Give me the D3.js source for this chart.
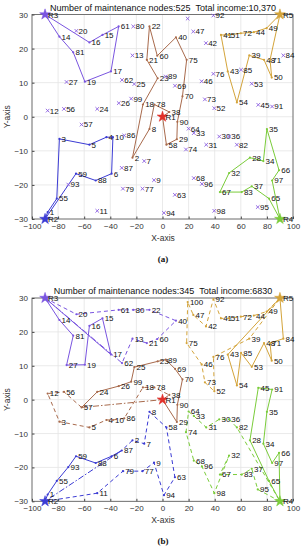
<!DOCTYPE html>
<html><head><meta charset="utf-8">
<script src="https://cdn.jsdelivr.net/npm/d3@7"></script>
<style>body{margin:0;background:#fff}svg{display:block;font-family:"Liberation Sans",Arial,sans-serif}text{white-space:pre}</style>
</head><body><svg id="c" width="303" height="550"></svg>
<script>
// ---------- data ----------
const nodeX = [-88,-23,-79,-43,-56,-39,-14,-10,-6.5,-38, -50,-88,-23,-79,-46,-56,-39.5,-15,-59.5,-66,
 -12,-10,-3.7,-50,-21.6,-33.5,-73.5,67,11,43.5, 33.5,51,24,77.3,80,51,68.4,5.2,66.5,10.3,
 44.8,33.3,50,70,73.4,30,23.6,77.8,79.8,83.7, 50.7,39.7,68.4,57,-81,-75.5,-62,3,-66.3,-4,
 -33.6,-31,9.5,20,81.6,89.3,44,24,9.6,15.3, 82.4,60,32.5,18,18.5,39,-15.3,-6.3,-30.3,-22.4,
 -68.4,57,60.7,92.6,60.2,-29.3,-31.2,-51.2,2.5,11.4, 84,39,-72.2,1.1,73,30.2,84,39.7,-24,19.3];
const nodeY = [-28,-12,-6.5,-6,-8.2,-16.7,-13,-3.6,-18.6,-6, -27.6,1.8,18,23.5,24,21.8,13.3,3.6,10.3,25.2,
 16.7,26.5,11.3,2.3,9.6,4,10.2,-12,-6.6,-5.8, -8.2,-16.5,-4.8,-13,-3.6,-5.8,-20.4,1.4,18,23.3,
 24,21.6,13.3,24.8,3.5,10.4,25,16.7,26,11.5, 24,2.5,9.7,4.2,-24,2.3,-2.3,-8.2,-16.7,17.9,
 26.5,10.8,-22.9,-3.5,-24,-15.7,-22.1,-18,9.1,6, 16.7,24.5,5.1,-9.6,16.7,12.6,-21.1,3.6,-21.1,26.5,
 18.9,-8.2,-22.1,18,13.8,-5.5,-15,-18.7,11.8,-1.5, 3,29.7,-19.9,-28.2,-26.5,-19.7,-18.7,-27.6,5.3,28.8];
const depotNames = ["R1","R2","R3","R4","R5"];
const depotX = [0,-90,-90,90,90];
const depotY = [0,-30,30,-30,30];

const xTicks = [-100,-80,-60,-40,-20,0,20,40,60,80,100];
const yTicks = [-30,-20,-10,0,10,20,30];

const titleA = "Number of maintenance nodes:525  Total income:10,370";
const titleB = "Number of maintenance nodes:345  Total income:6830";

// routes of plan (a)
const routesA = [
  ["R3",14,81,19,17,61,15,16,"R3"],
  ["R2",1,55,3,5,4,10,6,88,59,"R2"],
  ["R1",38,78,8,2,18,23,21,22,60,40,75,70,90,29,58,"R1"],
  ["R5",49,44,72,51,41,43,54,39,48,50,71,"R5"],
  ["R4",97,66,35,34,28,32,67,83,37,65,"R4"]
];
// routes of plan (b)
const routesB = [
  ["R3",14,81,27,19,16,15,17,"R3"],
  ["R3",20,61,80,22,40,60,21,13,62],
  [62,"R3"],
  ["R1",29,90,70,69,89,23,25,99,26,24,57],
  [57,56,12,3,5,4,10,86,18,78,38,"R1"],
  [57,"R1"],
  ["R2",1,55,93,59,88,6,87],
  ["R2",11,79,77,9,94,63,58,8,7,2,87],
  [87,"R2"],
  ["R5",84,71,50,48,53,85,54,43,"R5"],
  ["R5",49,44,72,51,41,92,42,47,100,75,46,73,52,76,39,"R5"],
  ["R4",66,97,34,35,91,45,28,65,"R4"],
  ["R4",95,37,83,67,32,98,96,68,74,64,33,31,30,36,82,"R4"]
];
// group (depot) of each route in (b), and line kind: 0 solid, 1 dashed, 2 dash-dot
const routesBDepot = ["R3","R3","R3","R1","R1","R1","R2","R2","R2","R5","R5","R4","R4"];
const routesBKind  = [0,1,2,0,1,2,0,1,2,0,1,0,1];

// ---------- styles ----------
const depotColor = {R1:"#a86a4c", R2:"#3b3bd4", R3:"#7a55e0", R4:"#7acc3a", R5:"#d4a43a"};
const depotStar = {R1:"#e0302a", R2:"#3b3bd4", R3:"#7a55e0", R4:"#7acc3a", R5:"#d4a43a"};
const dashes = [null,"4,3","6,2,1.5,2"];
const crossColor = "#8a5ee0";

const svg = d3.select("#c");
function pos(id){
  if (typeof id === "string"){ const i = depotNames.indexOf(id); return [depotX[i], depotY[i]]; }
  return [nodeX[id-1], nodeY[id-1]];
}

function panel(cfg){
  const g = svg.append("g");
  const x = d3.scaleLinear().domain([-100,100]).range([32,293]);
  const y = d3.scaleLinear().domain([-30,30]).range([cfg.bottom, cfg.top]);
  // grid
  g.append("g").selectAll("line").data(xTicks).join("line")
    .attr("x1",d=>x(d)).attr("x2",d=>x(d)).attr("y1",cfg.top).attr("y2",cfg.bottom)
    .attr("stroke","#e4e4e4").attr("stroke-width",0.8);
  g.append("g").selectAll("line").data(yTicks).join("line")
    .attr("y1",d=>y(d)).attr("y2",d=>y(d)).attr("x1",32).attr("x2",293)
    .attr("stroke","#e4e4e4").attr("stroke-width",0.8);
  // axes
  const ax = g.append("g").attr("transform",`translate(0,${cfg.bottom})`)
    .call(d3.axisBottom(x).tickValues(xTicks).tickSizeInner(-2.5).tickSizeOuter(0).tickPadding(4));
  const ay = g.append("g").attr("transform",`translate(32,0)`)
    .call(d3.axisLeft(y).tickValues(yTicks).tickSizeInner(-2.5).tickSizeOuter(0).tickPadding(4));
  [ax,ay].forEach(a=>{
    a.select(".domain").remove();
    a.selectAll("line").attr("stroke","#444");
    a.selectAll("text").attr("font-size",8).attr("fill","#333").attr("font-family","Liberation Sans, Arial, sans-serif");
  });
  g.append("rect").attr("x",32).attr("y",cfg.top).attr("width",261).attr("height",cfg.bottom-cfg.top)
    .attr("fill","none").attr("stroke","#555").attr("stroke-width",0.8);
  // routes
  const line = d3.line().x(d=>x(pos(d)[0])).y(d=>y(pos(d)[1]));
  const visitedColor = {};
  cfg.routes.forEach((r,i)=>{
    const dep = cfg.depots[i];
    g.append("path").attr("d",line(r)).attr("fill","none")
      .attr("stroke",depotColor[dep]).attr("stroke-width",1)
      .attr("stroke-dasharray",dashes[cfg.kinds[i]]);
    r.forEach(n=>{ if(typeof n==="number" && !visitedColor[n]) visitedColor[n]=depotColor[dep]; });
  });
  // nodes
  const ids = d3.range(1,101);
  ids.forEach(id=>{
    const px = x(nodeX[id-1]), py = y(nodeY[id-1]);
    if (visitedColor[id]){
      g.append("circle").attr("cx",px).attr("cy",py).attr("r",1.1).attr("fill",visitedColor[id]);
    } else {
      g.append("path").attr("d",`M${px-1.8},${py-1.8}L${px+1.8},${py+1.8}M${px-1.8},${py+1.8}L${px+1.8},${py-1.8}`)
        .attr("stroke",crossColor).attr("stroke-width",0.9);
    }
    if (!(cfg.hide||[]).includes(id)){
      g.append("text").attr("x",px+2.2).attr("y",py+2.9).attr("font-size",8).attr("fill","#111").text(id);
    }
  });
  // depots
  depotNames.forEach((d,i)=>{
    const px = x(depotX[i]), py = y(depotY[i]);
    g.append("path").attr("transform",`translate(${px},${py})`)
      .attr("d",d3.symbol(d3.symbolStar,36)()).attr("fill",depotStar[d]).attr("stroke",depotStar[d]).attr("stroke-width",0.5);
    g.append("text").attr("x",px+3).attr("y",py+3).attr("font-size",8).attr("fill","#111").text(d);
  });
  // titles
  g.append("text").attr("x",163).attr("y",cfg.top-4).attr("text-anchor","middle")
    .attr("font-size",9).attr("fill","#111").attr("xml:space","preserve").text(cfg.title);
  g.append("text").attr("x",163).attr("y",cfg.bottom+22).attr("text-anchor","middle")
    .attr("font-size",8.5).attr("fill","#333").text("X-axis");
  g.append("text").attr("transform",`translate(10,${(cfg.top+cfg.bottom)/2}) rotate(-90)`)
    .attr("text-anchor","middle").attr("font-size",8.5).attr("fill","#333").text("Y-axis");
  g.append("text").attr("x",163).attr("y",cfg.bottom+43).attr("text-anchor","middle")
    .attr("font-size",9).attr("font-weight","bold").attr("font-family","Liberation Serif, Times New Roman, serif")
    .attr("fill","#111").text(cfg.tag);
}

panel({top:14.5,bottom:219,title:titleA,tag:"(a)",routes:routesA,
  depots:routesA.map(r=>r[0]),kinds:routesA.map(()=>0),hide:[100]});
panel({top:298,bottom:501.3,title:titleB,tag:"(b)",routes:routesB,
  depots:routesBDepot,kinds:routesBKind});
</script></body></html>
